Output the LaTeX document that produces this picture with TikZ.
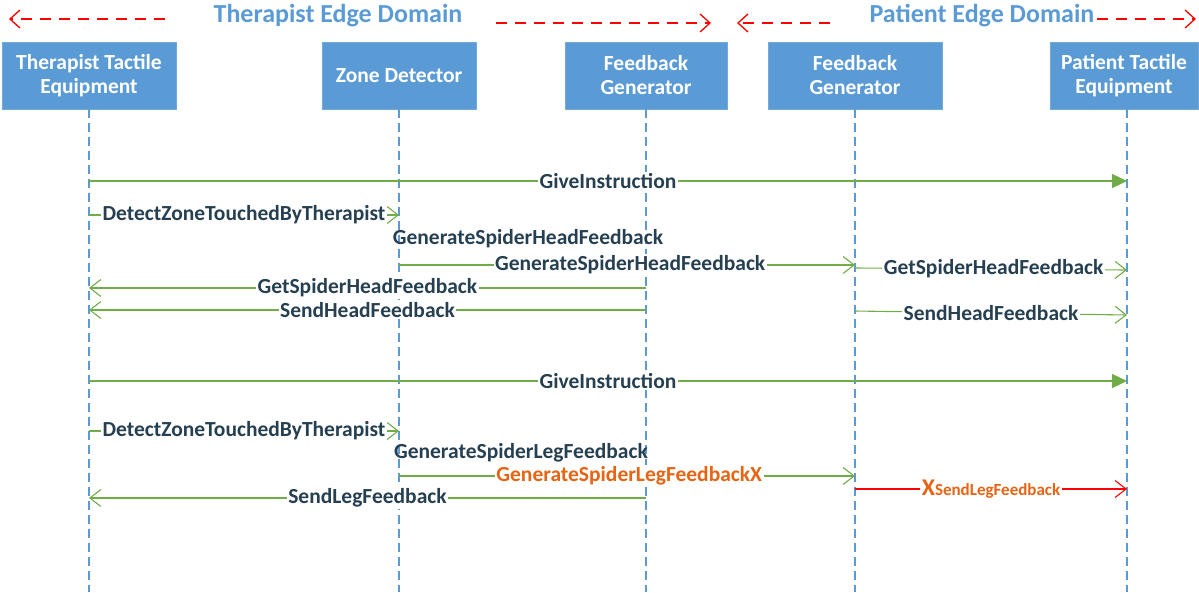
\documentclass[tikz,border=0pt]{standalone}
\usepackage{fontspec}
\setmainfont{Carlito}
\usetikzlibrary{arrows.meta}
\definecolor{boxblue}{RGB}{91,155,213}
\definecolor{msggreen}{RGB}{112,173,71}
\definecolor{labeltext}{RGB}{38,64,82}
\definecolor{warnorange}{RGB}{230,100,20}
\definecolor{domainred}{RGB}{255,0,0}
\tikzset{
  actor/.style={fill=boxblue, draw=boxblue!85!white, text=white, align=center,
    minimum height=67pt, inner sep=2pt,
    font=\bfseries\fontsize{21.5}{24}\selectfont},
  lifeline/.style={draw=boxblue, line width=1.2pt, dash pattern=on 9pt off 5pt},
  domaintitle/.style={text=boxblue, font=\bfseries\fontsize{26}{28}\selectfont, inner sep=0pt},
  domainarrow/.style={draw=domainred, line width=1.3pt, dash pattern=on 11pt off 8pt,
    -{Straight Barb[length=10pt,width=18pt,line width=1.3pt]}},
  msg/.style={draw=msggreen, line width=1.1pt,
    -{Straight Barb[length=11pt,width=17pt,line width=1.1pt]}},
  callmsg/.style={draw=msggreen, line width=1.1pt,
    -{Triangle[length=15pt,width=14pt]}, fill=msggreen},
  failmsg/.style={draw=domainred, line width=1.1pt,
    -{Straight Barb[length=11pt,width=17pt,line width=1.1pt]}},
  lbl/.style={fill=white, text=labeltext, inner sep=1.5pt,
    font=\bfseries\fontsize{21.5}{22}\selectfont},
  lblwarn/.style={lbl, text=warnorange},
  note/.style={text=labeltext, inner sep=0pt, font=\bfseries\fontsize{21.5}{22}\selectfont}
}
\begin{document}
\begin{tikzpicture}[x=1pt,y=-1pt]
\useasboundingbox (0,0) rectangle (1199,592);

% domain titles and their extent arrows
\node[domaintitle] (tdom) at (338,16) {Therapist Edge Domain};
\node[domaintitle] (pdom) at (982,16) {Patient Edge Domain};
\coordinate (dl1) at (165,19); \coordinate (dl2) at (9,19);
\coordinate (dm1) at (496,23); \coordinate (dm2) at (711,23);
\coordinate (dn1) at (830,23); \coordinate (dn2) at (737,23);
\coordinate (dr1) at (1097,19); \coordinate (dr2) at (1196,19);
\draw[domainarrow] (dl1) -- (dl2);
\draw[domainarrow] (dm1) -- (dm2);
\draw[domainarrow] (dn1) -- (dn2);
\draw[domainarrow] (dr1) -- (dr2);

% participants
\node[actor, minimum width=174pt] (tte) at (89,75.5) {Therapist Tactile\\Equipment};
\node[actor, minimum width=154pt] (zd)  at (399,75.5) {Zone Detector};
\node[actor, minimum width=162pt] (fg1) at (646,75.5) {Feedback\\Generator};
\node[actor, minimum width=174pt] (fg2) at (855,75.5) {Feedback\\Generator};
\node[actor, minimum width=148pt] (pte) at (1124,75.5) {Patient Tactile\\Equipment};

% lifelines
\coordinate (tteEnd) at (89,592);
\coordinate (zdEnd)  at (399,592);
\coordinate (fg1End) at (646,592);
\coordinate (fg2End) at (855,592);
\coordinate (pteTop) at (1127,109);
\coordinate (pteEnd) at (1127,592);
\draw[lifeline] (tte.south) -- (tteEnd);
\draw[lifeline] (zd.south) -- (zdEnd);
\draw[lifeline] (fg1.south) -- (fg1End);
\draw[lifeline] (fg2.south) -- (fg2End);
\draw[lifeline] (pteTop) -- (pteEnd);

% message end points on the lifelines
\foreach \n/\x/\y in {a1/89/181, a2/1127/181,
    b1/89/215, b2/399/215,
    c1/399/265, c2/855/265,
    d1/855/268, d2/1127/270,
    e1/646/288, e2/89/288,
    f1/646/310, f2/89/310,
    g1/855/311, g2/1127/315,
    h1/89/381, h2/1127/381,
    i1/89/431, i2/399/431,
    j1/399/476, j2/855/476,
    k1/855/489, k2/1127/489,
    l1/646/498, l2/89/498}
  \coordinate (\n) at (\x,\y);

% head feedback round
\draw[callmsg] (a1) -- node[lbl] {GiveInstruction} (a2);
\draw[msg] (b1) -- node[lbl] {DetectZoneTouchedByTherapist} (b2);
\node[note] (genhead) at (528,239) {GenerateSpiderHeadFeedback};
\draw[msg] (c1) -- node[lbl, pos=0.507] {GenerateSpiderHeadFeedback} (c2);
\draw[msg] (d1) -- node[lbl, pos=0.51] {GetSpiderHeadFeedback} (d2);
\draw[msg] (e1) -- node[lbl] {GetSpiderHeadFeedback} (e2);
\draw[msg] (f1) -- node[lbl] {SendHeadFeedback} (f2);
\draw[msg] (g1) -- node[lbl, pos=0.5] {SendHeadFeedback} (g2);

% leg feedback round
\draw[callmsg] (h1) -- node[lbl] {GiveInstruction} (h2);
\draw[msg] (i1) -- node[lbl] {DetectZoneTouchedByTherapist} (i2);
\node[note] (genleg) at (521,453) {GenerateSpiderLegFeedback};
\draw[msg] (j1) -- node[lblwarn, pos=0.505] {GenerateSpiderLegFeedbackX} (j2);
\draw[failmsg] (k1) -- node[lblwarn, pos=0.5]
  {{\fontsize{24}{24}\selectfont X}{\fontsize{17}{18}\selectfont SendLegFeedback}} (k2);
\draw[msg] (l1) -- node[lbl] {SendLegFeedback} (l2);
\end{tikzpicture}
\end{document}
